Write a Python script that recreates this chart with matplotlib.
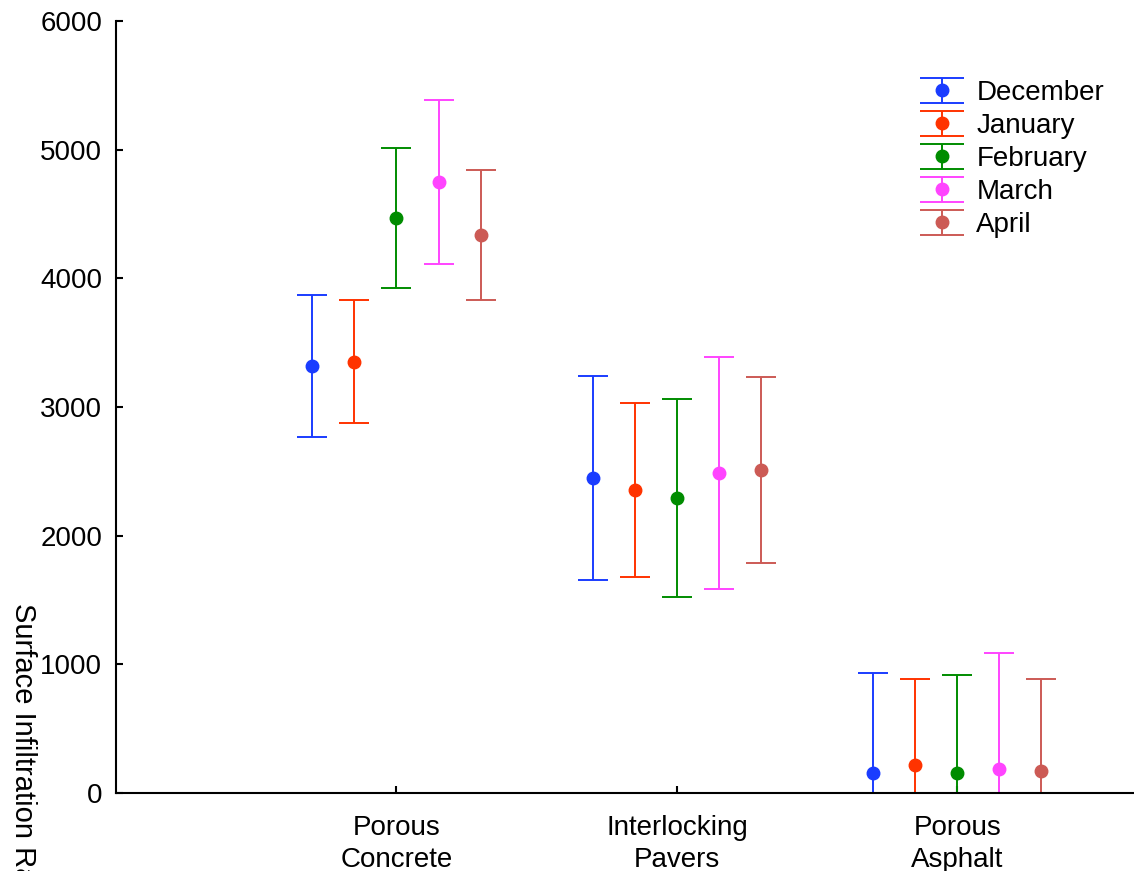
import numpy as np
import matplotlib.pyplot as plt
from matplotlib.legend_handler import HandlerErrorbar

plt.rcParams['font.family'] = ['Liberation Sans', 'DejaVu Sans']

surfaces = ['Porous\nConcrete', 'Interlocking\nPavers', 'Porous\nAsphalt']
months = ['December', 'January', 'February', 'March', 'April']
colors = ['#1a3cff', '#ff3300', '#008c00', '#ff44ff', '#cc5a55']

# mean infiltration rate per month, one value per surface
mean_dec = [3319, 2448, 155]
mean_jan = [3350, 2355, 218]
mean_feb = [4469, 2293, 155]
mean_mar = [4749, 2487, 187]
mean_apr = [4337, 2510, 171]

# error bar half widths
err_dec = [555, 789, 778]
err_jan = [478, 676, 668]
err_feb = [544, 769, 762]
err_mar = [637, 898, 901]
err_apr = [505, 722, 715]

means = [mean_dec, mean_jan, mean_feb, mean_mar, mean_apr]
errs = [err_dec, err_jan, err_feb, err_mar, err_apr]

fig = plt.figure(figsize=(11.34, 8.71), dpi=100)
ax = fig.add_axes([0.1023, 0.0896, 0.8977, 0.8863])

x = np.arange(len(surfaces))
offsets = [-0.3, -0.15, 0.0, 0.15, 0.3]
handles = []
for i in range(len(months)):
    ax.errorbar(x + offsets[i], means[i], yerr=errs[i], fmt='o', color=colors[i],
                markersize=9, elinewidth=1.4, capsize=10.5, capthick=1.4)
    # bigger caps for the legend only
    h = ax.errorbar([np.nan], [np.nan], yerr=[1], fmt='o', color=colors[i],
                    markersize=9, elinewidth=1.4, capsize=15.5, capthick=1.4,
                    label=months[i])
    handles.append(h)

ax.set_xlim(-1.0, 2.63)
ax.set_ylim(0, 6000)
ax.set_yticks(np.arange(0, 6001, 1000))
ax.set_xticks(x)
ax.set_xticklabels(surfaces, linespacing=1.3)
ax.spines['top'].set_visible(False)
ax.spines['right'].set_visible(False)
for s in ['left', 'bottom']:
    ax.spines[s].set_linewidth(1.5)
ax.tick_params(direction='in', length=5, width=1.5, labelsize=20)
ax.tick_params(axis='y', pad=10)
ax.tick_params(axis='x', pad=16)

ax.legend(handles=handles, loc='upper right', bbox_to_anchor=(0.987, 0.945),
          frameon=False, fontsize=20, labelspacing=0.25, handletextpad=0.3,
          handlelength=1.9, borderaxespad=0.2,
          handler_map={type(handles[0]): HandlerErrorbar(yerr_size=0.45)})

fig.text(0.008, 1 - 603 / 871, 'Surface Infiltration Rate (mm/h)', rotation=-90,
         va='top', ha='left', fontsize=21)

fig.savefig('out.png', dpi=100)
